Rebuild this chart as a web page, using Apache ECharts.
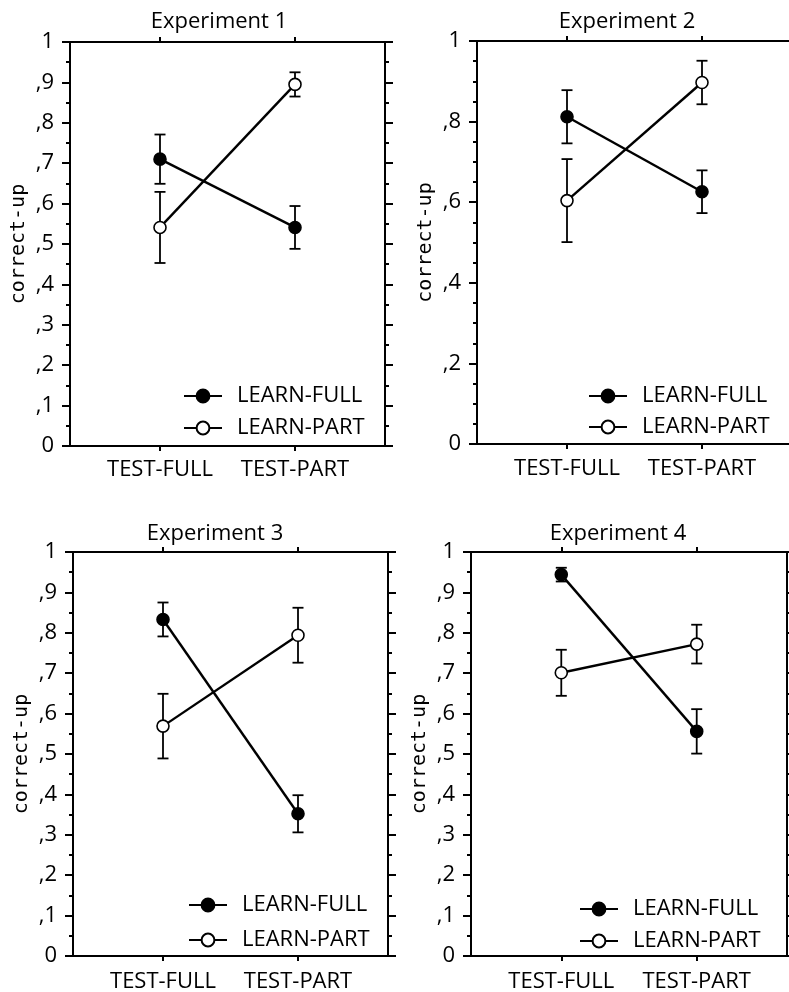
<!DOCTYPE html>
<html>
<head>
<meta charset="utf-8">
<script src="https://cdn.jsdelivr.net/npm/echarts@6/dist/echarts.min.js"></script>
<style>
html, body { margin: 0; background: #fff; }
#chart { width: 789px; height: 992px; }
</style>
</head>
<body>
<div id="chart"></div>
<script>
// categories, names, tick labels
var xCats = ['TEST-FULL', 'TEST-PART'];
var seriesNames = ['LEARN-FULL', 'LEARN-PART'];
var titles = ['Experiment 1', 'Experiment 2', 'Experiment 3', 'Experiment 4'];
var yLabelsTenths = ['0', ',1', ',2', ',3', ',4', ',5', ',6', ',7', ',8', ',9', '1'];
var yLabelsFifths = ['0', ',2', ',4', ',6', ',8', '1'];

// values (mean, error half-width) per experiment
var exp1Full = [0.710, 0.541], exp1FullErr = [0.061, 0.053];
var exp1Part = [0.541, 0.895], exp1PartErr = [0.088, 0.030];
var exp2Full = [0.812, 0.626], exp2FullErr = [0.066, 0.053];
var exp2Part = [0.604, 0.897], exp2PartErr = [0.103, 0.054];
var exp3Full = [0.833, 0.352], exp3FullErr = [0.042, 0.046];
var exp3Part = [0.569, 0.794], exp3PartErr = [0.080, 0.068];
var exp4Full = [0.944, 0.556], exp4FullErr = [0.017, 0.055];
var exp4Part = [0.701, 0.772], exp4PartErr = [0.057, 0.048];

var panels = [
    {full: exp1Full, fullErr: exp1FullErr, part: exp1Part, partErr: exp1PartErr, labels: yLabelsTenths},
    {full: exp2Full, fullErr: exp2FullErr, part: exp2Part, partErr: exp2PartErr, labels: yLabelsFifths},
    {full: exp3Full, fullErr: exp3FullErr, part: exp3Part, partErr: exp3PartErr, labels: yLabelsTenths},
    {full: exp4Full, fullErr: exp4FullErr, part: exp4Part, partErr: exp4PartErr, labels: yLabelsTenths}
];

// layout of each panel (pixels)
var layout = [
    {left: 70,  top: 42,  width: 315, height: 404, titleX: 219, titleY: 11,  legX: 183, legY: 385, legGap: 10, xMargin: 13},
    {left: 477, top: 41,  width: 315, height: 403, titleX: 627, titleY: 11,  legX: 588, legY: 385, legGap: 9,  xMargin: 14},
    {left: 73,  top: 552, width: 315, height: 404, titleX: 215, titleY: 523, legX: 188, legY: 894, legGap: 13, xMargin: 15},
    {left: 471, top: 552, width: 316, height: 404, titleX: 618, titleY: 523, legX: 579, legY: 898, legGap: 10, xMargin: 15}
];

var textFont = 'Open Sans';
var textSize = 22;
var blackLine = {color: '#000', width: 2};

function errRender(params, api) {
    var x = api.value(0);
    var lo = api.coord([x, api.value(1)]);
    var hi = api.coord([x, api.value(2)]);
    var w = 5.5;
    var st = {stroke: '#000', lineWidth: 1.8};
    return {
        type: 'group',
        children: [
            {type: 'line', shape: {x1: lo[0], y1: lo[1], x2: hi[0], y2: hi[1]}, style: st},
            {type: 'line', shape: {x1: lo[0] - w, y1: lo[1], x2: lo[0] + w, y2: lo[1]}, style: st},
            {type: 'line', shape: {x1: hi[0] - w, y1: hi[1], x2: hi[0] + w, y2: hi[1]}, style: st}
        ]
    };
}

var option = {
    backgroundColor: '#fff',
    animation: false,
    title: [], legend: [], grid: [], xAxis: [], yAxis: [], series: []
};

panels.forEach(function (p, i) {
    var L = layout[i];
    var step = p.labels.length - 1;
    option.title.push({
        text: titles[i], left: L.titleX, top: L.titleY, textAlign: 'center', padding: 0,
        textStyle: {fontFamily: textFont, fontSize: textSize, fontWeight: 'normal', color: '#000'}
    });
    option.legend.push({
        data: seriesNames, orient: 'vertical', left: L.legX, top: L.legY, padding: 0,
        itemWidth: 38, itemHeight: 16, itemGap: L.legGap, selectedMode: false,
        textStyle: {fontFamily: textFont, fontSize: textSize, color: '#000', lineHeight: 22, padding: [0, 0, 0, 10]}
    });
    // the box frame
    option.grid.push({
        left: L.left, top: L.top, width: L.width, height: L.height,
        show: true, borderColor: '#000', borderWidth: 2, backgroundColor: 'transparent',
        containLabel: false, outerBoundsMode: 'none'
    });

    var xBase = {
        type: 'value', gridIndex: i, min: 1 / 3, max: 8 / 3,
        axisLine: {show: true, onZero: false, lineStyle: blackLine},
        splitLine: {show: false}
    };
    option.xAxis.push(Object.assign({}, xBase, {
        position: 'bottom',
        axisTick: {show: true, length: 5, customValues: [1, 2], lineStyle: blackLine},
        axisLabel: {
            show: true, customValues: [1, 2], margin: L.xMargin,
            fontFamily: textFont, fontSize: textSize, color: '#000',
            formatter: function (v) { return xCats[Math.round(v) - 1]; }
        }
    }));
    option.xAxis.push(Object.assign({}, xBase, {
        position: 'top',
        axisTick: {show: true, length: 5, customValues: [1, 2], lineStyle: blackLine},
        axisLabel: {show: false}
    }));

    var yBase = {
        type: 'value', gridIndex: i, min: 0, max: 1, interval: 1 / step,
        axisLine: {show: true, onZero: false, lineStyle: blackLine},
        splitLine: {show: false},
        axisTick: {show: true, inside: false, length: 8, lineStyle: blackLine},
        minorTick: {show: true, splitNumber: step === 10 ? 2 : 4, length: 4, lineStyle: blackLine},
        minorSplitLine: {show: false}
    };
    option.yAxis.push(Object.assign({}, yBase, {
        position: 'left',
        name: 'correct-up', nameLocation: 'middle', nameRotate: 90, nameGap: 41,
        nameTextStyle: {fontFamily: 'DejaVu Sans Mono', fontSize: 20, color: '#000'},
        axisLabel: {
            show: true, margin: 16, fontFamily: textFont, fontSize: textSize, color: '#000',
            formatter: function (v) { return p.labels[Math.round(v * step)]; }
        }
    }));
    option.yAxis.push(Object.assign({}, yBase, {position: 'right', axisLabel: {show: false}}));

    var groups = [
        {name: seriesNames[0], vals: p.full, errs: p.fullErr, fill: '#000'},
        {name: seriesNames[1], vals: p.part, errs: p.partErr, fill: '#fff'}
    ];
    groups.forEach(function (g) {
        option.series.push({
            type: 'custom', xAxisIndex: 2 * i, yAxisIndex: 2 * i, z: 1,
            renderItem: errRender,
            encode: {x: 0, y: [1, 2]},
            data: g.vals.map(function (v, k) { return [k + 1, v - g.errs[k], v + g.errs[k]]; })
        });
        option.series.push({
            name: g.name, type: 'line', xAxisIndex: 2 * i, yAxisIndex: 2 * i, z: 3,
            symbol: 'circle', symbolSize: 12,
            lineStyle: {color: '#000', width: 2.4},
            itemStyle: {color: g.fill, borderColor: '#000', borderWidth: 1.6},
            emphasis: {disabled: true},
            data: g.vals.map(function (v, k) { return [k + 1, v]; })
        });
    });
});

var chart = echarts.init(document.getElementById('chart'));
chart.setOption(option);
</script>
</body>
</html>
